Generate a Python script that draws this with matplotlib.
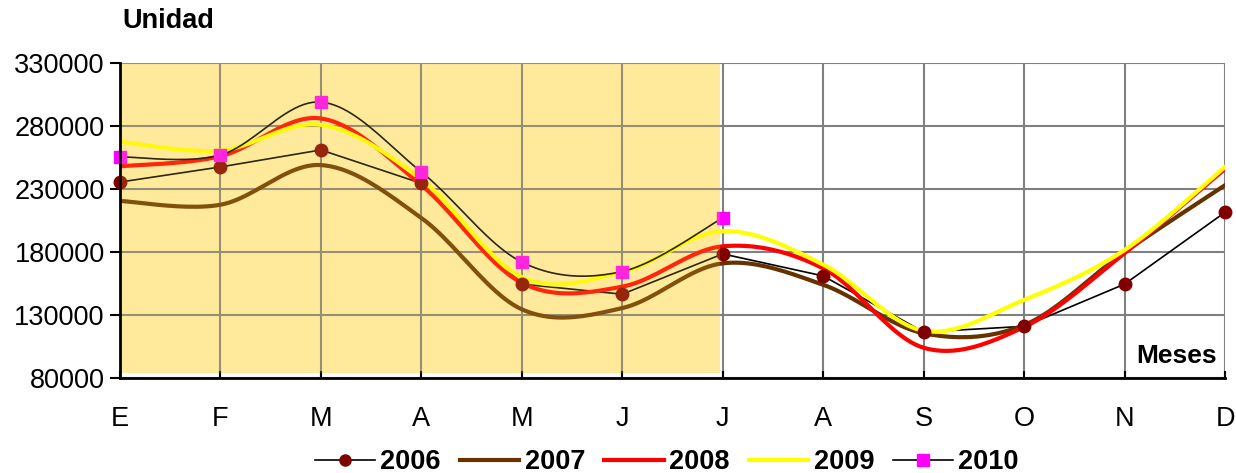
import matplotlib
matplotlib.use("Agg")
import matplotlib.pyplot as plt
import numpy as np
from matplotlib.patches import Rectangle

months = ["E", "F", "M", "A", "M", "J", "J", "A", "S", "O", "N", "D"]
s2006 = [235500, 247500, 261000, 234500, 154500, 146500, 178500, 161000, 116500, 121000, 154500, 211500]
s2007 = [220500, 217500, 249000, 207000, 134500, 135500, 171000, 154000, 115500, 122000, 180000, 233000]
s2008 = [248000, 256000, 286000, 233000, 155500, 152500, 184500, 167000, 104000, 120500, 179000, 246000]
s2009 = [267500, 260500, 281000, 237500, 160000, 164000, 196500, 170000, 117500, 142000, 181500, 247500]
s2010 = [255500, 257000, 299000, 243500, 172000, 164500, 207000]

plt.rcParams["font.family"] = ["Liberation Sans", "DejaVu Sans"]


def smooth(values, steps=24):
    # Excel-style smoothed line: Bezier through points, Catmull-Rom control points
    y = np.asarray(values, dtype=float)
    x = np.arange(len(y), dtype=float)
    pts = np.column_stack([x, y])
    ext = np.vstack([pts[0], pts, pts[-1]])
    out = []
    t = np.linspace(0, 1, steps)[:, None]
    for i in range(len(pts) - 1):
        p0, p1, p2, p3 = ext[i], ext[i + 1], ext[i + 2], ext[i + 3]
        c1 = p1 + (p2 - p0) / 6
        c2 = p2 - (p3 - p1) / 6
        seg = ((1 - t) ** 3) * p1 + 3 * ((1 - t) ** 2) * t * c1 + 3 * (1 - t) * t ** 2 * c2 + t ** 3 * p2
        out.append(seg if i == 0 else seg[1:])
    seg = np.vstack(out)
    return seg[:, 0], seg[:, 1]


fig = plt.figure(figsize=(12.36, 4.73), dpi=100)
ax = fig.add_axes([120 / 1236, 1 - 378 / 473, 1105 / 1236, 315 / 473])

x = np.arange(len(months))
ax.plot(x, s2006, color="black", lw=1.2, zorder=3)
ax.plot(*smooth(s2007), color="#663300", lw=3, zorder=3)
ax.plot(*smooth(s2008), color="#FF0000", lw=3, zorder=3)
ax.plot(*smooth(s2009), color="#FFFF00", lw=3, zorder=3)
ax.plot(*smooth(s2010), color="black", lw=1.2, zorder=3)
ax.plot(x, s2006, ls="none", marker="o", ms=9, color="#800000", zorder=4, clip_on=False)
ax.plot(np.arange(len(s2010)), s2010, ls="none", marker="s", ms=8, color="#FF00FF",
        zorder=4, clip_on=False)

# shaded first-half block: pale yellow base under the grid, light tint over the lines
ax.add_patch(Rectangle((0, 84000), 5.97, 246000, facecolor="#FFEFAE", edgecolor="none", zorder=0.5))
ax.add_patch(Rectangle((0, 84000), 5.97, 246000, facecolor="#FFD84A", alpha=0.18,
                       edgecolor="none", zorder=5))

# legend handles
h = [
    ax.plot([], [], color="black", lw=1.2, marker="o", ms=8, mfc="#800000", mec="#800000")[0],
    ax.plot([], [], color="#663300", lw=3)[0],
    ax.plot([], [], color="#FF0000", lw=3)[0],
    ax.plot([], [], color="#FFFF00", lw=3)[0],
    ax.plot([], [], color="black", lw=1.2, marker="s", ms=8, mfc="#FF00FF", mec="#FF00FF")[0],
]
fig.legend(h, ["2006", "2007", "2008", "2009", "2010"], loc="center", ncol=5,
           bbox_to_anchor=(667 / 1236, 1 - 462 / 473), frameon=False, handlelength=2.2,
           columnspacing=0.7, handletextpad=0.2,
           prop={"weight": "bold", "size": 19.5})

ax.set_xlim(0, 11)
ax.set_ylim(80000, 330000)
ax.set_yticks(np.arange(80000, 330001, 50000))
ax.set_xticks(x)
ax.set_xticklabels(months)
ax.grid(True, color="#808080", lw=1.5, zorder=1)
ax.set_axisbelow(True)
for side in ["top", "right"]:
    ax.spines[side].set_visible(False)
for side in ["left", "bottom"]:
    ax.spines[side].set_linewidth(2)
    ax.spines[side].set_zorder(6)
ax.tick_params(axis="y", direction="out", length=7, width=1.5, labelsize=19.5, pad=4)
ax.tick_params(axis="x", direction="in", length=5, width=1.5, labelsize=19.5, pad=20)

fig.text(122 / 1236, 1 - 21 / 473, "Unidad", fontsize=19.5, fontweight="bold", va="center", ha="left")
ax.text(0.993, 0.07, "Meses", transform=ax.transAxes, fontsize=19, fontweight="bold",
        va="center", ha="right", zorder=7)

fig.savefig("out.png", dpi=100)
